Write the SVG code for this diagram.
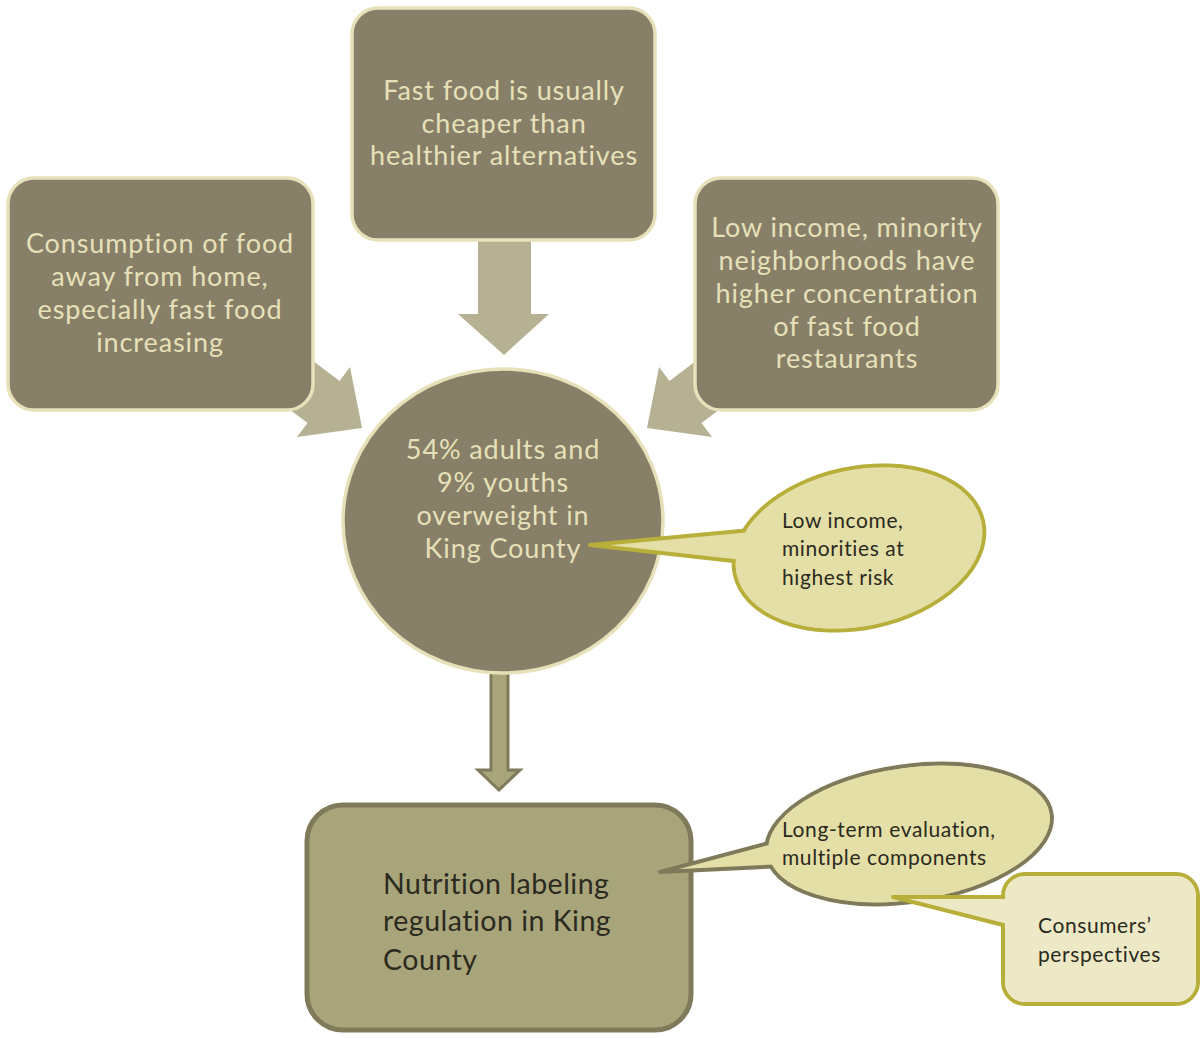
<svg xmlns="http://www.w3.org/2000/svg" width="1201" height="1038" viewBox="0 0 1201 1038">
<style>
.dk{fill:#877F67;stroke:#E6E1B9;stroke-width:3.5}
.arw{fill:#B5B192}
.lt{font-family:Lato,"Open Sans","Liberation Sans",sans-serif;font-size:27px;letter-spacing:0.9px;fill:#E6E1B9;text-anchor:middle;font-variant-ligatures:none}
.dt{font-family:Lato,"Open Sans","Liberation Sans",sans-serif;fill:#2B2A20;font-variant-ligatures:none}
.sm{font-size:21px;letter-spacing:0.6px}
.bg{font-size:28.5px;letter-spacing:0.5px}
.c1{fill:#E4DFA7;stroke:#B8AF3A;stroke-width:4;stroke-linejoin:round}
.c2{fill:#E4DFA7;stroke:#7F7A5A;stroke-width:4;stroke-linejoin:round}
.c3{fill:#EDE9C6;stroke:#B8AF3A;stroke-width:4;stroke-linejoin:round}
</style>
<rect width="1201" height="1038" fill="#FFFFFF"/>
<g id="connectors">
  <polygon class="arw" points="478,238 531,238 531,314 549,314 504,355 458,314 478,314"/>
  <polygon class="arw" points="259.8,320.5 339.5,380.9 350,367 362,428 297,437 307.5,423.1 227.8,362.7"/>
  <polygon class="arw" points="749.2,320.5 669.5,380.9 659,367 647,428 712,437 701.5,423.1 781.2,362.7"/>
  <polygon points="491,672 508,672 508,770 520,770 499,790 478,770 491,770" fill="#A9A57A" stroke="#7F7B5B" stroke-width="3" stroke-linejoin="miter"/>
</g>
<g id="node-top">
  <rect class="dk" x="352" y="8" width="303" height="232" rx="26"/>
  <text class="lt" x="504" y="100">Fast food is usually</text>
  <text class="lt" x="504" y="133">cheaper than</text>
  <text class="lt" x="504" y="165">healthier alternatives</text>
</g>
<g id="node-left">
  <rect class="dk" x="8" y="178" width="305" height="232" rx="26"/>
  <text class="lt" x="160" y="253">Consumption of food</text>
  <text class="lt" x="160" y="286">away from home,</text>
  <text class="lt" x="160" y="319">especially fast food</text>
  <text class="lt" x="160" y="352">increasing</text>
</g>
<g id="node-right">
  <rect class="dk" x="695" y="178" width="303" height="232" rx="26"/>
  <text class="lt" x="847" y="237">Low income, minority</text>
  <text class="lt" x="847" y="270">neighborhoods have</text>
  <text class="lt" x="847" y="303">higher concentration</text>
  <text class="lt" x="847" y="336">of fast food</text>
  <text class="lt" x="847" y="368">restaurants</text>
</g>
<g id="node-center">
  <ellipse class="dk" cx="503" cy="521" rx="160" ry="152"/>
  <text class="lt" x="503" y="459">54% adults and</text>
  <text class="lt" x="503" y="492">9% youths</text>
  <text class="lt" x="503" y="525">overweight in</text>
  <text class="lt" x="503" y="558">King County</text>
</g>
<g id="callout-risk">
  <ellipse class="c1" cx="859" cy="548" rx="127" ry="80" transform="rotate(-12 859 548)"/>
  <polygon class="c1" points="762,529 590,545 760,564"/>
  <ellipse cx="859" cy="548" rx="125" ry="78" transform="rotate(-12 859 548)" fill="#E4DFA7"/>
  <text class="dt sm" x="782" y="528">Low income,</text>
  <text class="dt sm" x="782" y="556">minorities at</text>
  <text class="dt sm" x="782" y="585">highest risk</text>
</g>
<g id="node-bottom">
  <rect x="307" y="805" width="384" height="225" rx="36" fill="#A9A57B" stroke="#7F7A5A" stroke-width="5"/>
  <text class="dt bg" x="383" y="894">Nutrition labeling</text>
  <text class="dt bg" x="383" y="931">regulation in King</text>
  <text class="dt bg" x="383" y="970">County</text>
</g>
<g id="callout-evaluation">
  <ellipse class="c2" cx="909" cy="834" rx="144" ry="68" transform="rotate(-8 909 834)"/>
  <polygon class="c2" points="780,840 660,872 785,866"/>
  <ellipse cx="909" cy="834" rx="142" ry="66" transform="rotate(-8 909 834)" fill="#E4DFA7"/>
  <text class="dt sm" x="782" y="837">Long-term evaluation,</text>
  <text class="dt sm" x="782" y="865">multiple components</text>
</g>
<g id="callout-consumers">
  <rect class="c3" x="1003" y="874" width="195" height="130" rx="22"/>
  <polygon class="c3" points="1015,897 893,897 1015,928"/>
  <rect x="1005" y="876" width="191" height="126" rx="20" fill="#EDE9C6"/>
  <text class="dt sm" x="1038" y="933">Consumers’</text>
  <text class="dt sm" x="1038" y="962">perspectives</text>
</g>
</svg>
